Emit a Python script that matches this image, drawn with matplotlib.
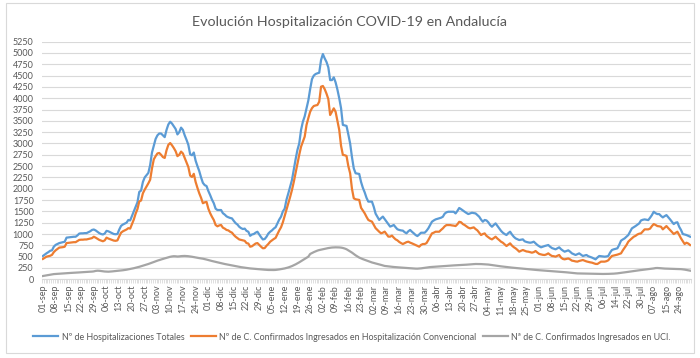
import matplotlib
matplotlib.use("Agg")
import matplotlib.pyplot as plt
from matplotlib.patches import Rectangle
from matplotlib.lines import Line2D
from datetime import date, timedelta

# ---------------- data ----------------
month_abbr = ["ene", "feb", "mar", "abr", "may", "jun", "jul", "ago", "sep", "oct", "nov", "dic"]

# daily reports 01-sep-2020 .. 06-jul-2021, afterwards only reporting days
daily_start = date(2020, 9, 1)
daily_end = date(2021, 7, 6)
later_days = [
    (7, 7), (8, 7), (9, 7), (10, 7), (12, 7), (13, 7), (14, 7),
    (15, 7), (16, 7), (17, 7), (19, 7), (20, 7), (21, 7), (22, 7),
    (23, 7), (24, 7), (26, 7), (27, 7), (28, 7), (29, 7), (30, 7),
    (31, 7), (2, 8), (3, 8), (4, 8), (5, 8), (6, 8), (7, 8),
    (9, 8), (10, 8), (11, 8), (12, 8), (13, 8), (14, 8), (15, 8),
    (17, 8), (18, 8), (19, 8), (20, 8), (21, 8), (23, 8), (24, 8),
    (25, 8), (26, 8), (27, 8), (28, 8), (30, 8), (31, 8),
]

totales = [
    515, 545, 575, 600, 630, 640, 720,
    760, 780, 800, 810, 820, 830, 920,
    925, 930, 935, 940, 940, 970, 1010,
    1015, 1015, 1020, 1020, 1040, 1060, 1090,
    1100, 1080, 1050, 1020, 1000, 990, 1010,
    1070, 1060, 1040, 1020, 1000, 995, 1000,
    1100, 1180, 1210, 1230, 1250, 1310, 1300,
    1400, 1500, 1600, 1700, 1930, 1960, 2150,
    2250, 2300, 2350, 2525, 2800, 2950, 3100,
    3180, 3220, 3220, 3180, 3140, 3300, 3420,
    3480, 3440, 3380, 3320, 3200, 3250, 3350,
    3300, 3180, 3080, 2970, 2760, 2740, 2800,
    2620, 2500, 2390, 2250, 2130, 2080, 2060,
    1950, 1860, 1760, 1680, 1560, 1530, 1530,
    1530, 1460, 1430, 1390, 1370, 1355, 1345,
    1290, 1240, 1210, 1160, 1130, 1110, 1120,
    1070, 1050, 960, 990, 1000, 1030, 1050,
    990, 930, 880, 890, 940, 1010, 1050,
    1080, 1120, 1150, 1236, 1320, 1384, 1500,
    1560, 1760, 1899, 2050, 2193, 2420, 2650,
    2856, 3000, 3300, 3480, 3600, 3776, 3950,
    4200, 4420, 4500, 4534, 4550, 4563, 4843,
    4975, 4880, 4800, 4680, 4400, 4400, 4460,
    4350, 4190, 4000, 3780, 3410, 3400, 3388,
    3200, 3000, 2700, 2450, 2342, 2335, 2327,
    2150, 2020, 1920, 1800, 1716, 1716, 1716,
    1600, 1450, 1380, 1311, 1350, 1385, 1330,
    1274, 1220, 1164, 1180, 1200, 1150, 1105,
    1090, 1080, 1075, 1040, 1016, 1060, 1090,
    1050, 1016, 978, 955, 990, 1029, 1029,
    1029, 1070, 1125, 1200, 1272, 1300, 1323,
    1335, 1345, 1360, 1382, 1450, 1480, 1492,
    1492, 1492, 1492, 1455, 1510, 1575, 1550,
    1520, 1492, 1465, 1441, 1455, 1470, 1462,
    1455, 1420, 1382, 1320, 1272, 1310, 1300,
    1260, 1200, 1161, 1200, 1235, 1180, 1125,
    1070, 1029, 1000, 978, 1020, 1051, 990,
    940, 904, 885, 867, 875, 882, 840,
    825, 815, 808, 815, 831, 795, 757,
    730, 706, 720, 735, 745, 757, 720,
    690, 675, 662, 685, 706, 665, 635,
    610, 625, 640, 610, 573, 555, 537,
    555, 573, 545, 515, 525, 537, 510,
    495, 480, 460, 441, 480, 515, 510,
    505, 500, 505, 515, 590, 647, 662,
    672, 684, 760, 853, 880, 904, 940,
    978, 1050, 1125, 1150, 1176, 1205, 1235,
    1300, 1315, 1323, 1315, 1308, 1360, 1418,
    1492, 1460, 1441, 1441, 1400, 1367, 1395,
    1418, 1370, 1323, 1270, 1220, 1250, 1260,
    1160, 1090, 1000, 990, 978, 960, 941,
]

convencional = [
    450, 475, 500, 510, 520, 540, 600,
    640, 670, 700, 705, 710, 720, 800,
    805, 810, 815, 820, 820, 845, 870,
    875, 875, 880, 880, 890, 900, 910,
    940, 920, 895, 870, 855, 840, 860,
    920, 900, 885, 870, 855, 850, 860,
    950, 1030, 1060, 1080, 1100, 1130, 1120,
    1220, 1320, 1450, 1550, 1720, 1740, 1900,
    1980, 2050, 2120, 2200, 2450, 2650, 2720,
    2780, 2790, 2750, 2700, 2680, 2850, 2970,
    3010, 2960, 2900, 2830, 2720, 2750, 2820,
    2780, 2680, 2580, 2480, 2290, 2260, 2330,
    2150, 2020, 1900, 1800, 1680, 1700, 1710,
    1560, 1460, 1380, 1310, 1200, 1170, 1190,
    1200, 1140, 1120, 1090, 1080, 1050, 1030,
    980, 940, 910, 880, 870, 860, 850,
    800, 790, 720, 730, 760, 790, 800,
    760, 720, 685, 690, 740, 780, 830,
    860, 890, 915, 1000, 1080, 1150, 1260,
    1400, 1540, 1678, 1820, 1972, 2150, 2350,
    2561, 2750, 2929, 3040, 3150, 3408, 3560,
    3700, 3780, 3827, 3840, 3849, 3923, 4254,
    4270, 4200, 4100, 3980, 3629, 3700, 3776,
    3700, 3500, 3300, 2950, 2747, 2740, 2725,
    2500, 2342, 2000, 1789, 1767, 1760, 1753,
    1580, 1520, 1458, 1380, 1311, 1290, 1274,
    1200, 1130, 1090, 1050, 1016, 1030, 1053,
    1000, 943, 942, 965, 920, 882, 860,
    825, 800, 779, 800, 820, 831, 810,
    794, 775, 757, 735, 720, 760, 779,
    779, 800, 867, 940, 1014, 1030, 1051,
    1051, 1051, 1090, 1125, 1170, 1198, 1198,
    1198, 1190, 1185, 1176, 1215, 1270, 1260,
    1220, 1198, 1170, 1140, 1125, 1136, 1147,
    1110, 1080, 1030, 978, 1000, 1014, 960,
    930, 900, 882, 910, 941, 900, 867,
    830, 808, 770, 735, 765, 794, 745,
    710, 684, 650, 610, 630, 647, 630,
    615, 610, 600, 588, 600, 625, 590,
    560, 550, 540, 537, 550, 573, 540,
    515, 510, 500, 520, 537, 480, 450,
    441, 450, 460, 440, 412, 405, 395,
    390, 405, 415, 426, 410, 395, 385,
    375, 368, 355, 340, 338, 365, 390,
    390, 390, 400, 420, 470, 515, 525,
    537, 545, 560, 573, 640, 700, 757,
    830, 870, 904, 940, 960, 990, 1007,
    1014, 1060, 1103, 1103, 1103, 1120, 1176,
    1220, 1200, 1176, 1170, 1161, 1103, 1140,
    1176, 1130, 1088, 1045, 1000, 1025, 1051,
    980, 904, 840, 779, 808, 790, 757,
]

uci = [
    73, 80, 88, 95, 102, 108, 115,
    118, 122, 125, 128, 130, 132, 135,
    137, 140, 142, 144, 147, 150, 152,
    155, 158, 160, 163, 166, 168, 170,
    175, 185, 190, 188, 182, 178, 172,
    169, 168, 170, 174, 178, 182, 186,
    190, 195, 200, 205, 212, 220, 228,
    236, 245, 255, 265, 276, 288, 300,
    312, 325, 338, 352, 367, 382, 398,
    412, 425, 438, 450, 462, 474, 486,
    497, 505, 510, 508, 503, 506, 512,
    515, 516, 514, 510, 505, 498, 490,
    482, 475, 468, 462, 455, 446, 436,
    425, 414, 404, 395, 386, 376, 366,
    356, 346, 338, 330, 322, 315, 308,
    300, 292, 284, 276, 268, 262, 256,
    250, 245, 240, 236, 232, 229, 226,
    223, 220, 216, 212, 208, 206, 205,
    204, 205, 207, 212, 218, 225, 232,
    240, 250, 262, 276, 292, 310, 330,
    352, 375, 400, 425, 450, 475, 500,
    559, 580, 600, 618, 634, 646, 655,
    662, 672, 682, 690, 697, 702, 705,
    706, 706, 704, 700, 692, 680, 664,
    640, 615, 590, 560, 530, 505, 480,
    462, 445, 430, 415, 400, 385, 372,
    360, 350, 340, 330, 318, 306, 295,
    290, 285, 280, 276, 272, 268, 265,
    262, 259, 256, 253, 250, 248, 246,
    243, 240, 236, 235, 238, 242, 248,
    255, 262, 266, 270, 273, 276, 279,
    282, 285, 288, 291, 294, 298, 301,
    303, 305, 307, 309, 311, 313, 316,
    318, 320, 323, 326, 329, 332, 335,
    338, 338, 337, 336, 334, 332, 330,
    326, 320, 314, 308, 301, 296, 291,
    286, 281, 276, 271, 266, 262, 258,
    254, 250, 246, 242, 238, 235, 231,
    227, 223, 219, 215, 211, 207, 204,
    201, 198, 195, 192, 189, 186, 184,
    181, 178, 175, 172, 169, 166, 162,
    158, 154, 150, 146, 142, 137, 132,
    130, 129, 128, 127, 126, 126, 125,
    124, 123, 122, 121, 120, 119, 118,
    118, 118, 119, 120, 121, 123, 125,
    128, 132, 137, 142, 147, 153, 159,
    165, 171, 177, 183, 189, 194, 199,
    204, 209, 214, 219, 224, 228, 233,
    240, 248, 250, 248, 244, 240, 237,
    235, 233, 232, 231, 230, 229, 228,
    226, 224, 220, 214, 206, 198, 191,
]

series_labels = [
    "Nº de Hospitalizaciones Totales",
    "Nº de C. Confirmados Ingresados en Hospitalización Convencional",
    "Nª de C. Confirmados Ingresados en UCI.",
]
series_colors = ["#5B9BD5", "#ED7D31", "#A5A5A5"]
title = "Evolución Hospitalización COVID-19 en Andalucía"

# ---------------- categories ----------------
dates = []
d = daily_start
while d <= daily_end:
    dates.append((d.day, d.month))
    d += timedelta(days=1)
dates += later_days
categories = ["%02d-%s" % (dd, month_abbr[mm - 1]) for dd, mm in dates]
n = len(categories)

# ---------------- plot ----------------
plt.rcParams["font.family"] = ["Lato", "DejaVu Sans"]
txt = "#595959"

fig = plt.figure(figsize=(7.0, 3.58), dpi=100)
ax = fig.add_axes([42 / 700, 1 - 279.3 / 358, (691 - 42) / 700, (279.3 - 41.6) / 358])

x = list(range(n))
for vals, lab, col in zip([totales, convencional, uci], series_labels, series_colors):
    ax.plot(x[:len(vals)], vals, color=col, lw=1.6, label=lab, solid_joinstyle="round")

ax.set_xlim(-0.5, n - 0.5)
ax.set_ylim(0, 5250)
ax.set_yticks(range(0, 5251, 250))
ax.tick_params(axis="y", length=0, pad=6, labelsize=6.5, labelcolor=txt)
ax.grid(axis="y", color="#D9D9D9", lw=0.8)
ax.set_axisbelow(True)

tick_pos = list(range(0, n, 7))
ax.set_xticks(tick_pos)
ax.set_xticklabels([categories[i] for i in tick_pos], rotation=90, fontsize=6.5, color=txt)
ax.set_xticks([i + 0.5 for i in range(-1, n)], minor=True)
ax.tick_params(axis="x", which="major", length=0, pad=4)
ax.tick_params(axis="x", which="minor", length=3, color="#D9D9D9", width=0.6)

for s in ["top", "right", "left"]:
    ax.spines[s].set_visible(False)
ax.spines["bottom"].set_color("#D9D9D9")
ax.spines["bottom"].set_linewidth(0.8)

fig.text(0.5, 1 - 22 / 358, title, ha="center", va="center", fontsize=10.3, color=txt)

handles = [Line2D([0], [0], color=c, lw=1.6) for c in series_colors]
fig.legend(handles, series_labels, loc="center", bbox_to_anchor=(352 / 700, 1 - 337 / 358),
           ncol=3, frameon=False, fontsize=6.4, labelcolor=txt, handlelength=2.8,
           handletextpad=0.4, columnspacing=0.7)

fig.patches.append(Rectangle((6 / 700, 1 - 353 / 358), 688 / 700, 350 / 358,
                             transform=fig.transFigure, fill=False, ec="#D9D9D9", lw=0.8))

fig.savefig("out.png", dpi=100, facecolor="white")
